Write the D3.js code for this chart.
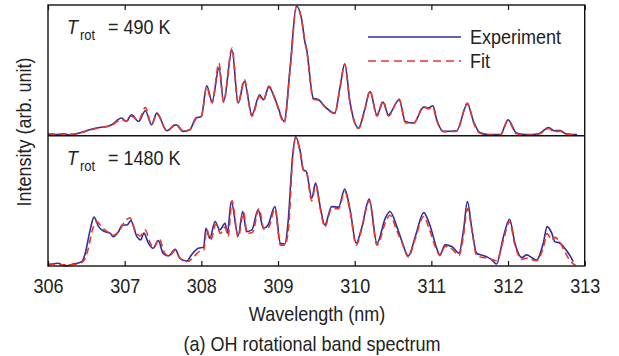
<!DOCTYPE html>
<html><head><meta charset="utf-8">
<script src="https://cdn.jsdelivr.net/npm/d3@7"></script>
<style>body{margin:0;background:#fff}svg{display:block}text{font-family:"Liberation Sans",Arial,sans-serif;fill:#222}</style>
</head><body><svg id="c" width="619" height="356"></svg>
<script>
// wavelength (nm) and normalized intensity (arb. unit)
const topExpWl = [306.00,306.10,306.20,306.30,306.42,306.50,306.59,306.70,306.77,306.83,306.96,307.02,307.09,307.18,307.27,307.35,307.42,307.55,307.67,307.76,307.85,307.93,308.00,308.07,308.14,308.23,308.29,308.40,308.48,308.56,308.66,308.76,308.81,308.88,308.98,309.08,309.16,309.24,309.31,309.35,309.37,309.46,309.53,309.61,309.74,309.81,309.87,309.94,310.05,310.13,310.20,310.29,310.37,310.44,310.58,310.66,310.77,310.90,310.96,311.02,311.07,311.16,311.33,311.47,311.55,311.63,311.75,311.90,312.00,312.11,312.25,312.40,312.53,312.60,312.68,312.75,312.90];
const topExp = [0.011,0.008,0.015,0.004,0.023,0.038,0.053,0.065,0.071,0.084,0.135,0.109,0.160,0.109,0.191,0.084,0.173,0.038,0.084,0.033,0.046,0.135,0.147,0.382,0.262,0.517,0.262,0.656,0.250,0.415,0.160,0.313,0.275,0.372,0.252,0.109,0.534,0.992,0.885,0.720,0.672,0.288,0.275,0.224,0.173,0.376,0.550,0.252,0.059,0.198,0.338,0.160,0.257,0.160,0.275,0.109,0.097,0.219,0.211,0.229,0.122,0.033,0.038,0.242,0.109,0.025,0.008,0.008,0.122,0.021,0.008,0.015,0.063,0.038,0.040,0.015,0.008];
const topFit = [0.015,0.012,0.010,0.012,0.020,0.035,0.050,0.062,0.070,0.080,0.125,0.110,0.150,0.115,0.215,0.085,0.165,0.040,0.090,0.035,0.045,0.130,0.150,0.370,0.250,0.555,0.255,0.670,0.245,0.430,0.150,0.300,0.270,0.380,0.245,0.100,0.520,0.985,0.880,0.715,0.665,0.280,0.270,0.220,0.170,0.370,0.545,0.245,0.055,0.190,0.345,0.150,0.265,0.150,0.280,0.100,0.095,0.225,0.205,0.215,0.115,0.030,0.035,0.250,0.100,0.020,0.005,0.005,0.115,0.015,0.005,0.012,0.055,0.030,0.035,0.010,0.005];

const botExpWl = [306.00,306.13,306.22,306.33,306.44,306.48,306.55,306.60,306.66,306.74,306.81,306.85,306.92,306.97,307.03,307.08,307.16,307.21,307.25,307.31,307.37,307.44,307.50,307.57,307.66,307.72,307.81,307.87,307.96,308.03,308.06,308.11,308.18,308.24,308.31,308.34,308.39,308.48,308.54,308.59,308.66,308.74,308.81,308.87,308.96,309.03,309.09,309.13,309.19,309.23,309.29,309.33,309.37,309.44,309.49,309.55,309.61,309.70,309.79,309.87,309.94,310.02,310.09,310.19,310.29,310.40,310.46,310.55,310.61,310.70,310.79,310.90,310.98,311.07,311.11,311.18,311.27,311.36,311.42,311.47,311.53,311.59,311.72,311.79,311.85,311.94,312.02,312.09,312.18,312.24,312.37,312.46,312.51,312.57,312.61,312.68,312.74,312.81,312.85];
const botExp = [0.008,0.021,0.000,0.015,0.033,0.085,0.277,0.375,0.302,0.264,0.252,0.225,0.264,0.315,0.315,0.348,0.225,0.200,0.252,0.175,0.136,0.195,0.098,0.077,0.128,0.059,0.038,0.085,0.136,0.144,0.290,0.213,0.341,0.277,0.328,0.252,0.495,0.231,0.418,0.264,0.277,0.431,0.290,0.315,0.456,0.175,0.169,0.328,0.841,0.992,0.879,0.738,0.725,0.521,0.636,0.456,0.315,0.456,0.452,0.590,0.431,0.175,0.290,0.513,0.175,0.367,0.418,0.302,0.200,0.077,0.225,0.410,0.315,0.136,0.085,0.162,0.148,0.098,0.277,0.495,0.277,0.098,0.072,0.046,0.015,0.225,0.359,0.175,0.064,0.085,0.046,0.175,0.302,0.252,0.187,0.175,0.136,0.077,0.033];
const botFitWl = [306.00,306.15,306.30,306.45,306.52,306.58,306.64,306.70,306.78,306.85,306.93,307.00,307.07,307.13,307.20,307.27,307.33,307.38,307.45,307.52,307.58,307.66,307.73,307.82,307.90,307.97,308.03,308.07,308.12,308.19,308.25,308.31,308.35,308.40,308.48,308.55,308.60,308.67,308.75,308.82,308.88,308.96,309.03,309.09,309.14,309.19,309.23,309.29,309.33,309.37,309.44,309.49,309.55,309.61,309.70,309.79,309.87,309.94,310.02,310.09,310.19,310.29,310.40,310.46,310.55,310.61,310.70,310.79,310.90,310.98,311.07,311.11,311.18,311.27,311.36,311.42,311.47,311.53,311.59,311.72,311.79,311.85,311.94,312.02,312.09,312.18,312.24,312.37,312.46,312.51,312.57,312.61,312.68,312.74,312.81,312.88];
const botFit = [0.015,0.010,0.010,0.030,0.120,0.280,0.340,0.300,0.260,0.235,0.270,0.340,0.370,0.280,0.230,0.275,0.180,0.140,0.210,0.100,0.075,0.120,0.055,0.035,0.070,0.110,0.120,0.280,0.200,0.320,0.250,0.300,0.230,0.500,0.220,0.410,0.250,0.260,0.440,0.280,0.300,0.440,0.160,0.160,0.310,0.820,0.985,0.870,0.740,0.720,0.500,0.620,0.440,0.300,0.440,0.440,0.570,0.420,0.160,0.280,0.500,0.160,0.330,0.390,0.270,0.190,0.070,0.210,0.380,0.270,0.120,0.080,0.150,0.130,0.080,0.240,0.440,0.270,0.080,0.060,0.050,0.040,0.200,0.340,0.160,0.050,0.060,0.040,0.140,0.250,0.200,0.220,0.180,0.110,0.040,0.005];

const xTicks = [306,307,308,309,310,311,312,313];
const panelLabels = ["490 K","1480 K"];
const legendLabels = ["Experiment","Fit"];
const xLabel = "Wavelength (nm)";
const yLabel = "Intensity (arb. unit)";
const caption = "(a) OH rotational band spectrum";

const svg = d3.select("#c");
const L = 48, R = 584.7, T = 5, B = 266, M = 135.7;
const SY = 1.08; // slight vertical stretch of lettering, as in the reference
const x = d3.scaleLinear().domain([306,313]).range([L,R]);
const panels = [
  {y: d3.scaleLinear().domain([0,1]).range([M, T]), wlE: topExpWl, e: topExp, wlF: topExpWl, f: topFit, lab: panelLabels[0]},
  {y: d3.scaleLinear().domain([0,1]).range([B, M]), wlE: botExpWl, e: botExp, wlF: botFitWl, f: botFit, lab: panelLabels[1]}
];
const blue = "#2d2d9b", red = "#e8372c";

function txt(g, px, py, s, size, anchor) {
  return g.append("text").attr("transform", `translate(${px},${py}) scale(1,${SY})`)
    .attr("font-size", size).attr("text-anchor", anchor || "start").text(s);
}

panels.forEach((p,i) => {
  const g = svg.append("g");
  const line = (wl) => d3.line().x((d,k)=>x(wl[k])).y(d=>p.y(d)).curve(d3.curveMonotoneX);
  g.append("path").attr("d", line(p.wlE)(p.e)).attr("fill","none").attr("stroke",blue).attr("stroke-width",1.6);
  g.append("path").attr("d", line(p.wlF)(p.f)).attr("fill","none").attr("stroke",red).attr("stroke-width",1.6).attr("stroke-dasharray","7,4");
  const ty = p.y.range()[1] + 29;
  txt(g, 67, ty, "T", 18).attr("font-style","italic");
  txt(g, 80, ty+6, "rot", 13);
  txt(g, 108, ty, "= " + p.lab, 18);
});

// frame
svg.append("rect").attr("x",L).attr("y",T).attr("width",R-L).attr("height",B-T).attr("fill","none").attr("stroke","#111").attr("stroke-width",1.4);
svg.append("line").attr("x1",L).attr("x2",R).attr("y1",M).attr("y2",M).attr("stroke","#111").attr("stroke-width",1.4);

// axes
const axB = svg.append("g").attr("transform",`translate(0,${B})`)
  .call(d3.axisBottom(x).tickValues(xTicks).tickFormat(d3.format("d")).tickSizeInner(-5).tickSizeOuter(0));
axB.select(".domain").remove();
axB.selectAll("line").attr("stroke","#111").attr("stroke-width",1.2);
axB.selectAll("text").attr("dy",null).attr("y",null)
  .attr("transform",`translate(0,27) scale(1,${SY})`)
  .attr("font-size",18).attr("fill","#222").attr("font-family","Liberation Sans, Arial, sans-serif");
const axT = svg.append("g").attr("transform",`translate(0,${T})`)
  .call(d3.axisTop(x).tickValues(xTicks).tickFormat("").tickSizeInner(-5).tickSizeOuter(0));
axT.select(".domain").remove();
axT.selectAll("line").attr("stroke","#111").attr("stroke-width",1.2);

// legend
const lg = svg.append("g");
lg.append("line").attr("x1",368).attr("x2",461).attr("y1",37).attr("y2",37).attr("stroke",blue).attr("stroke-width",1.6);
lg.append("line").attr("x1",368).attr("x2",461).attr("y1",61).attr("y2",61).attr("stroke",red).attr("stroke-width",1.6).attr("stroke-dasharray","8,5");
txt(lg, 470, 43.5, legendLabels[0], 18);
txt(lg, 470, 67.5, legendLabels[1], 18);

txt(svg, 317, 321, xLabel, 18, "middle");
txt(svg, 312, 351, caption, 18, "middle");
svg.append("text").attr("transform",`translate(31,132) rotate(-90) scale(1,${SY})`).attr("text-anchor","middle").attr("font-size",18).text(yLabel);
</script></body></html>
